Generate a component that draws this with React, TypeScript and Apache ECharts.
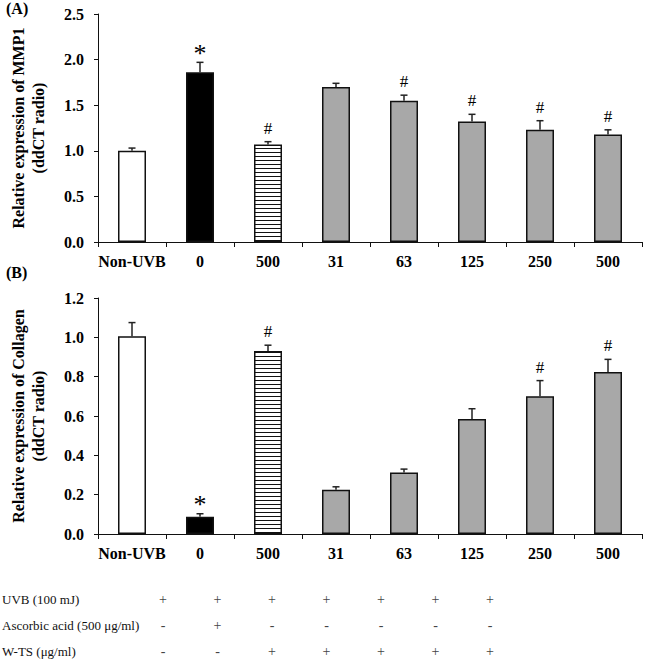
import React, { useEffect, useRef } from "react";
import * as echarts from "echarts";

const categories = ["Non-UVB", "0", "500", "31", "63", "125", "250", "500"];
const mmp1 = [1.0, 1.86, 1.07, 1.7, 1.55, 1.32, 1.23, 1.18];
const mmp1Err = [0.03, 0.11, 0.03, 0.04, 0.06, 0.08, 0.1, 0.05];
const mmp1Marks = ["", "*", "#", "", "#", "#", "#", "#"];
const collagen = [1.005, 0.088, 0.93, 0.225, 0.313, 0.585, 0.7, 0.824];
const collagenErr = [0.07, 0.015, 0.03, 0.015, 0.017, 0.052, 0.08, 0.064];
const collagenMarks = ["", "*", "#", "", "", "", "#", "#"];
const barFills = ["white", "black", "stripe", "gray", "gray", "gray", "gray", "gray"];

const tableRows = ["UVB (100 mJ)", "Ascorbic acid (500 μg/ml)", "W-TS (μg/ml)"];
const uvbRow = ["+", "+", "+", "+", "+", "+", "+"];
const ascorbicRow = ["-", "+", "-", "-", "-", "-", "-"];
const wtsRow = ["-", "-", "+", "+", "+", "+", "+"];

const SERIF = "'Liberation Serif', 'Times New Roman', serif";

function stripeCanvas(): HTMLCanvasElement {
  const c = document.createElement("canvas");
  c.width = 8;
  c.height = 4;
  const ctx = c.getContext("2d")!;
  ctx.fillStyle = "#ffffff";
  ctx.fillRect(0, 0, 8, 4);
  ctx.fillStyle = "#111111";
  ctx.fillRect(0, 0, 8, 1);
  return c;
}

export default function App() {
  const ref = useRef<HTMLDivElement>(null);
  useEffect(() => {
    const chart = echarts.init(ref.current!, undefined, { renderer: "svg" });
    const stripe = { image: stripeCanvas(), repeat: "repeat" };
    const fillOf = (f: string): any =>
      f === "white" ? "#ffffff" : f === "black" ? "#000000" : f === "gray" ? "#a8a8a8" : stripe;

    const barData = (vals: number[]) =>
      vals.map((v, i) => ({
        value: v,
        itemStyle: { color: fillOf(barFills[i]), borderColor: "#111", borderWidth: 1.5 },
      }));

    const errSeries = (vals: number[], errs: number[], marks: string[], idx: number) => ({
      type: "custom",
      xAxisIndex: idx,
      yAxisIndex: idx,
      z: 5,
      data: vals.map((v, i) => [i, v, errs[i]]),
      renderItem: (params: any, api: any) => {
        const i = api.value(0);
        const v = api.value(1);
        const e = api.value(2);
        const base = api.coord([i, v]);
        const top = api.coord([i, v + e]);
        const mark = marks[params.dataIndex];
        const children: any[] = [
          {
            type: "line",
            shape: { x1: base[0], y1: base[1], x2: top[0], y2: top[1] },
            style: { stroke: "#222", lineWidth: 1.5 },
          },
          {
            type: "line",
            shape: { x1: top[0] - 3.5, y1: top[1], x2: top[0] + 3.5, y2: top[1] },
            style: { stroke: "#222", lineWidth: 1.5 },
          },
        ];
        if (mark) {
          children.push({
            type: "text",
            x: top[0],
            y: mark === "*" ? top[1] + 4 : top[1] - 5,
            style: {
              text: mark,
              fill: "#000",
              font: mark === "*" ? `26px ${SERIF}` : `17px ${SERIF}`,
              textAlign: "center",
              textVerticalAlign: "bottom",
            },
          });
        }
        return { type: "group", children };
      },
    });

    const xAxis = (idx: number) => ({
      type: "category",
      gridIndex: idx,
      data: categories,
      axisLine: { show: true, lineStyle: { color: "#111", width: 1 } },
      axisTick: { show: true, length: 5, lineStyle: { color: "#111" } },
      axisLabel: {
        color: "#000",
        fontFamily: SERIF,
        fontWeight: "bold",
        fontSize: 16,
        margin: 11,
        interval: 0,
      },
      splitLine: { show: false },
    });

    const yAxis = (idx: number, max: number, interval: number, name: string) => ({
      type: "value",
      gridIndex: idx,
      min: 0,
      max,
      interval,
      name,
      nameLocation: "middle",
      nameRotate: 90,
      nameGap: 50,
      nameTextStyle: {
        color: "#000",
        fontFamily: SERIF,
        fontWeight: "bold",
        fontSize: 16,
        lineHeight: 20,
      },
      axisLine: { show: true, lineStyle: { color: "#111", width: 1 } },
      axisTick: { show: true, length: 4, lineStyle: { color: "#111" } },
      axisLabel: {
        color: "#000",
        fontFamily: SERIF,
        fontWeight: "bold",
        fontSize: 16,
        margin: 14,
        formatter: (v: number) => v.toFixed(1),
      },
      splitLine: { show: false },
    });

    const colX = (k: number) => 163 + k * 54.5;
    const rowY = [599, 625, 651];
    const tableGraphics: any[] = [];
    tableRows.forEach((label, r) => {
      tableGraphics.push({
        type: "text",
        x: 2,
        y: rowY[r],
        style: {
          text: label,
          fill: "#111",
          font: `13px ${SERIF}`,
          textVerticalAlign: "middle",
        },
      });
    });
    [uvbRow, ascorbicRow, wtsRow].forEach((row, r) => {
      row.forEach((s, k) => {
        tableGraphics.push({
          type: "text",
          x: colX(k),
          y: rowY[r],
          style: {
            text: s,
            fill: "#444",
            font: `14px ${SERIF}`,
            textAlign: "center",
            textVerticalAlign: "middle",
          },
        });
      });
    });

    chart.setOption({
      animation: false,
      backgroundColor: "#ffffff",
      grid: [
        { left: 97, right: 3, top: 14, height: 228 },
        { left: 97, right: 3, top: 298, height: 236 },
      ],
      xAxis: [xAxis(0), xAxis(1)],
      yAxis: [
        yAxis(0, 2.5, 0.5, "Relative expression of MMP1\n(ddCT radio)"),
        yAxis(1, 1.2, 0.2, "Relative expression of Collagen\n(ddCT radio)"),
      ],
      graphic: [
        {
          type: "text",
          x: 6,
          y: 0,
          style: { text: "(A)", fill: "#000", font: `bold 16px ${SERIF}` },
        },
        {
          type: "text",
          x: 6,
          y: 264,
          style: { text: "(B)", fill: "#000", font: `bold 16px ${SERIF}` },
        },
        ...tableGraphics,
      ],
      series: [
        {
          type: "bar",
          xAxisIndex: 0,
          yAxisIndex: 0,
          barWidth: 28,
          data: barData(mmp1),
        },
        errSeries(mmp1, mmp1Err, mmp1Marks, 0),
        {
          type: "bar",
          xAxisIndex: 1,
          yAxisIndex: 1,
          barWidth: 28,
          data: barData(collagen),
        },
        errSeries(collagen, collagenErr, collagenMarks, 1),
      ],
    });
    return () => chart.dispose();
  }, []);
  return (
    <div
      ref={ref}
      style={{ position: "absolute", left: 0, top: 0, width: 645, height: 665, background: "#fff" }}
    />
  );
}
